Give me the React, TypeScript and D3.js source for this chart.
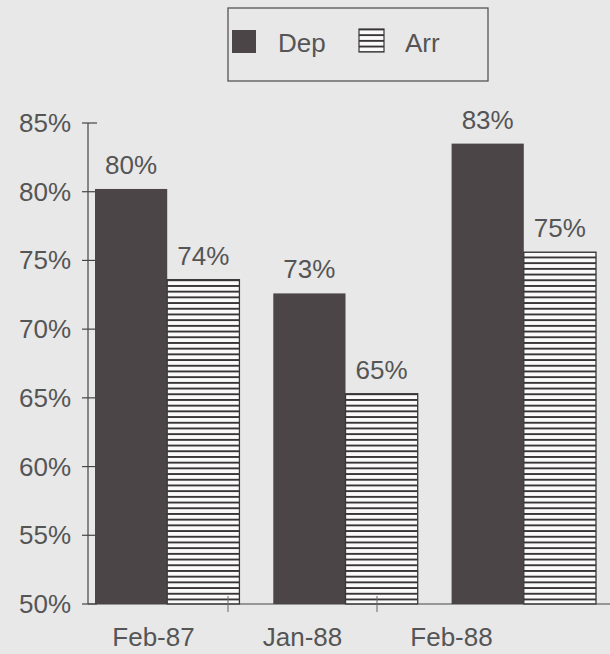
import React from "react";
import * as d3 from "d3";

const categories = ["Feb-87", "Jan-88", "Feb-88"];
const seriesNames = ["Dep", "Arr"];
const depValues = [80.2, 72.6, 83.5];
const arrValues = [73.6, 65.3, 75.6];
const yTicks = [50, 55, 60, 65, 70, 75, 80, 85];
const valueLabels = [["80%", "74%"], ["73%", "65%"], ["83%", "75%"]];

const W = 610;
const H = 654;
const BG = "#e8e8e8";
const TEXT = "#555";
const DARK = "#4b4547";
const FONT = "'Liberation Sans', Arial, sans-serif";

export default function App() {
  const y = d3.scaleLinear().domain([50, 85]).range([604, 123]);
  const xAxis = d3.scaleBand<string>().domain(categories).range([79, 526]);
  const xBars = d3
    .scaleBand<string>()
    .domain(categories)
    .range([95, 596])
    .paddingInner(0.19)
    .paddingOuter(0);
  const xSeries = d3
    .scaleBand<string>()
    .domain(seriesNames)
    .range([0, xBars.bandwidth()]);

  const series = [depValues, arrValues];

  return (
    <svg
      width={W}
      height={H}
      style={{ position: "absolute", left: 0, top: 0, background: BG }}
      fontFamily={FONT}
    >
      <defs>
        <pattern id="hstripe" patternUnits="userSpaceOnUse" width="10" height="5.7">
          <rect width="10" height="5.7" fill="#fafafa" />
          <rect y="0" width="10" height="1.9" fill="#3a3637" />
        </pattern>
      </defs>
      <rect width={W} height={H} fill={BG} />

      {/* legend */}
      <rect x={228} y={8} width={260} height={73} fill="none" stroke="#555" strokeWidth={1.3} />
      <rect x={232} y={30} width={24} height={23} fill={DARK} />
      <text x={278} y={52} fontSize={26} fill={TEXT}>Dep</text>
      <rect x={359} y={29} width={25} height={23} fill="url(#hstripe)" stroke="#3a3637" strokeWidth={1.2} />
      <text x={405} y={52} fontSize={26} fill={TEXT}>Arr</text>

      {/* y axis */}
      <line x1={88} x2={88} y1={y(85)} y2={y(50)} stroke="#444" strokeWidth={1.2} />
      {yTicks.map((t) => (
        <g key={t}>
          <line x1={82} x2={97} y1={y(t)} y2={y(t)} stroke="#444" strokeWidth={1.2} />
          <text x={71} y={y(t) + 9} fontSize={26} textAnchor="end" fill={TEXT}>
            {t}%
          </text>
        </g>
      ))}

      {/* bars */}
      {categories.map((c, i) => (
        <g key={c} transform={`translate(${xBars(c)},0)`}>
          {seriesNames.map((s, j) => {
            const v = series[j][i];
            const x0 = xSeries(s)!;
            const bw = xSeries.bandwidth();
            return (
              <g key={s}>
                <rect
                  x={x0}
                  y={y(v)}
                  width={bw}
                  height={y(50) - y(v)}
                  fill={j === 0 ? DARK : "url(#hstripe)"}
                  stroke={j === 0 ? "none" : "#3a3637"}
                  strokeWidth={1.3}
                />
                <text
                  x={x0 + bw / 2}
                  y={y(v) - 15}
                  fontSize={26}
                  textAnchor="middle"
                  fill={TEXT}
                >
                  {valueLabels[i][j]}
                </text>
              </g>
            );
          })}
        </g>
      ))}

      {/* x axis */}
      <line x1={88} x2={W} y1={604} y2={604} stroke="#444" strokeWidth={1.2} />
      {categories.slice(1).map((c) => (
        <line
          key={c}
          x1={xAxis(c)!}
          x2={xAxis(c)!}
          y1={596}
          y2={612}
          stroke="#666"
          strokeWidth={1}
        />
      ))}
      {categories.map((c) => (
        <text
          key={c}
          x={xAxis(c)! + xAxis.bandwidth() / 2}
          y={646}
          fontSize={26}
          textAnchor="middle"
          fill={TEXT}
        >
          {c}
        </text>
      ))}
    </svg>
  );
}
